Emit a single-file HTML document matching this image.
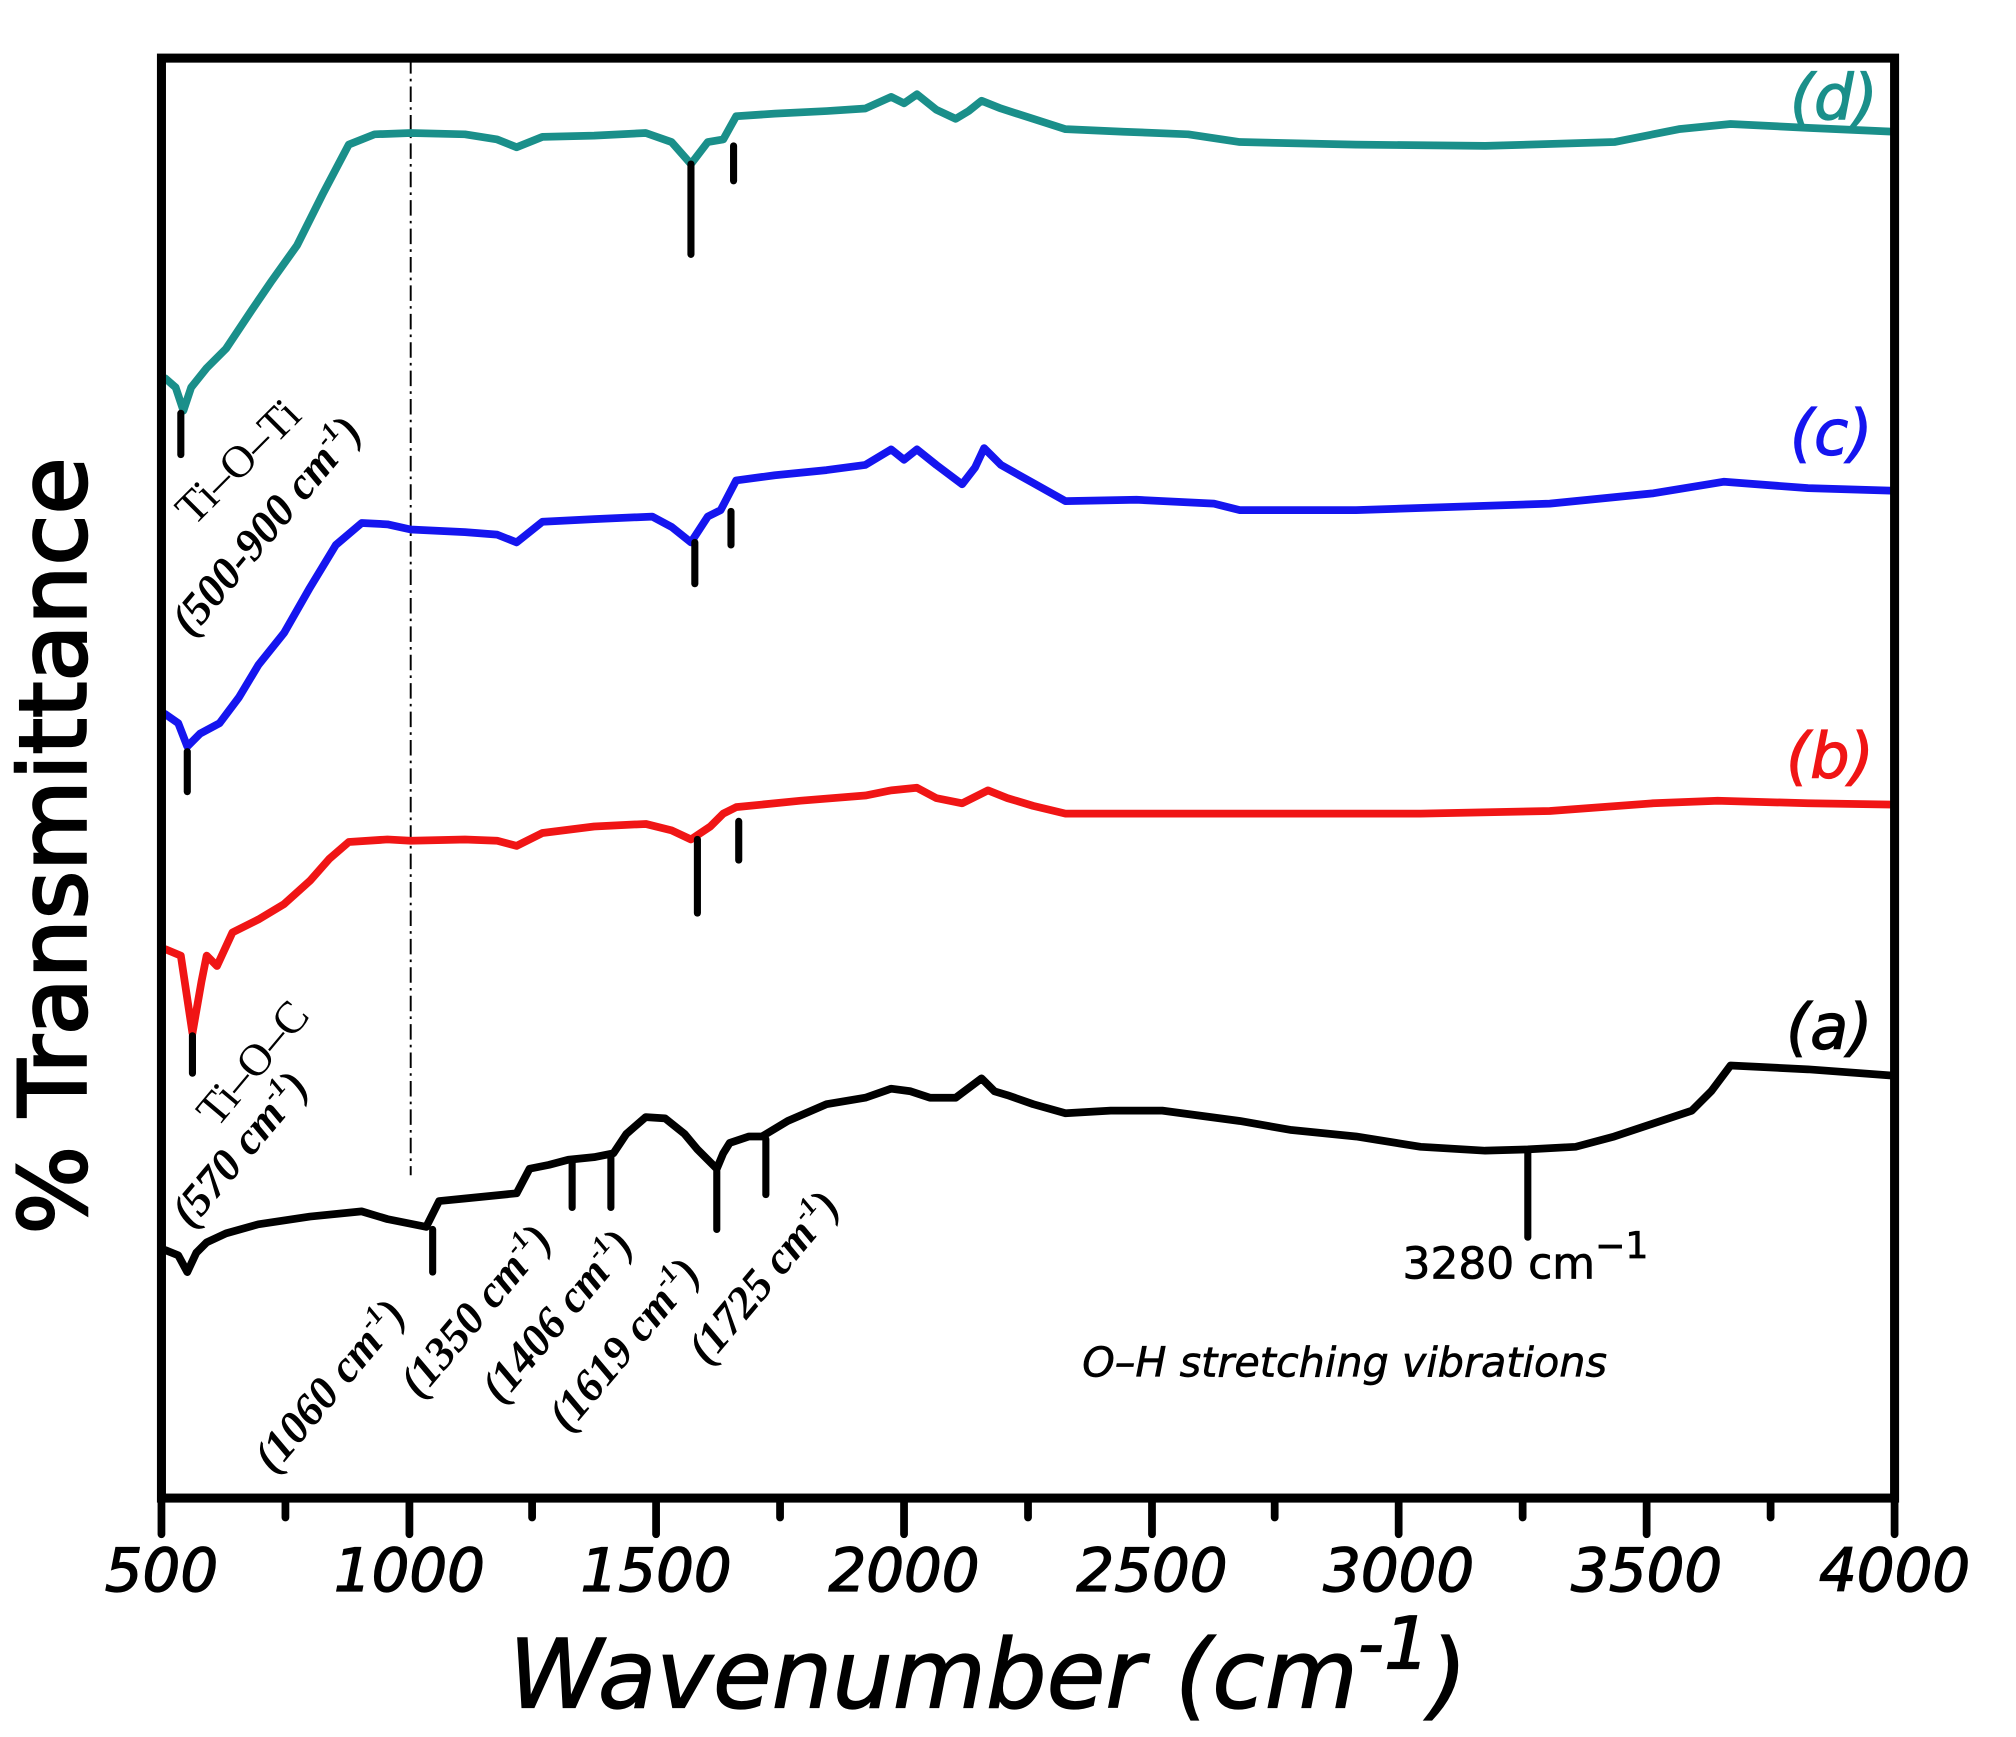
<!DOCTYPE html>
<html><head><meta charset="utf-8"><style>
html,body{margin:0;padding:0;background:#fff;}
svg{display:block;}
.t{font-family:"DejaVu Sans","Liberation Sans",sans-serif;}
.s{font-family:"Liberation Serif",serif;font-style:italic;font-weight:bold;}
</style></head><body>
<svg width="2016" height="1737" viewBox="0 0 1561 1345" xmlns="http://www.w3.org/2000/svg">
<rect width="1561" height="1345" fill="#fff"/>
<line x1="318" y1="45" x2="318" y2="910" stroke="#000" stroke-width="1.5" stroke-dasharray="12,4,2,4"/>
<g fill="none" stroke-width="6" stroke-linejoin="round" stroke-linecap="round">
<polyline stroke="#1a8f8a" points="128,293 136,300 142,318 148,300 160,285 175,270 195,240 210,218 230,190 250,150 270,112 290,104 318,103 360,104 385,108 400,114 420,106 460,105 500,103 520,110 535,127 548,110 560,108 570,90 600,88 640,86 670,84 690,75 700,80 710,73 725,85 740,92 750,86 760,78 775,84 800,92 825,100 870,102 920,104 960,110 1050,112 1150,113 1250,110 1300,100 1340,96 1400,99 1467,102"/>
<polyline stroke="#1515ef" points="128,553 138,560 145,578 155,568 170,560 185,540 200,515 220,490 240,455 260,422 280,405 300,406 318,410 360,412 385,414 400,420 420,404 460,402 505,400 520,408 535,420 548,400 558,395 570,372 600,368 640,364 670,360 690,348 700,356 710,348 725,360 745,375 755,362 762,347 775,360 800,374 825,388 880,387 940,390 960,395 1050,395 1200,390 1280,382 1335,373 1400,378 1467,380"/>
<polyline stroke="#f01515" points="128,735 140,740 149,800 156,760 160,740 168,748 180,722 200,712 220,700 240,682 255,665 270,652 300,650 318,651 360,650 385,651 400,655 420,645 460,640 500,638 520,643 535,650 550,640 560,630 570,625 620,620 670,616 690,612 710,610 725,618 745,622 765,612 780,618 800,624 825,630 900,630 1000,630 1100,630 1200,628 1280,622 1330,620 1400,622 1467,623"/>
<polyline stroke="#000" points="128,968 138,972 145,985 152,970 160,962 175,955 200,948 240,942 280,938 300,944 330,950 340,930 360,928 390,925 400,924 410,905 425,902 440,898 460,896 475,893 485,878 500,865 515,866 530,878 540,890 555,905 560,893 565,885 580,880 590,880 610,868 640,855 670,850 690,843 705,845 720,850 740,850 760,835 770,845 780,848 800,855 825,862 860,860 900,860 960,868 1000,875 1050,880 1100,888 1150,891 1183,890 1220,888 1250,880 1280,870 1310,860 1325,845 1340,825 1360,826 1400,828 1467,833"/>
</g>
<g stroke="#000" stroke-width="5.5" stroke-linecap="round">
<line x1="535" y1="127" x2="535" y2="197"/><line x1="568" y1="113" x2="568" y2="140"/><line x1="140" y1="320" x2="140" y2="352"/>
<line x1="538" y1="420" x2="538" y2="452"/><line x1="566" y1="396" x2="566" y2="422"/><line x1="145" y1="582" x2="145" y2="613"/>
<line x1="540" y1="650" x2="540" y2="707"/><line x1="572" y1="636" x2="572" y2="666"/><line x1="149" y1="802" x2="149" y2="831"/>
<line x1="335" y1="952" x2="335" y2="985"/><line x1="443" y1="900" x2="443" y2="935"/><line x1="473" y1="895" x2="473" y2="935"/><line x1="555" y1="907" x2="555" y2="952"/><line x1="593" y1="882" x2="593" y2="925"/><line x1="1183" y1="892" x2="1183" y2="958"/>
</g>
<rect x="125" y="45" width="1342" height="1115" fill="none" stroke="#000" stroke-width="7"/>
<g stroke="#000" stroke-width="6" stroke-linecap="round">
<line x1="125" y1="1160" x2="125" y2="1188"/><line x1="221" y1="1160" x2="221" y2="1175"/>
<line x1="317" y1="1160" x2="317" y2="1188"/><line x1="412" y1="1160" x2="412" y2="1175"/>
<line x1="508" y1="1160" x2="508" y2="1188"/><line x1="604" y1="1160" x2="604" y2="1175"/>
<line x1="700" y1="1160" x2="700" y2="1188"/><line x1="796" y1="1160" x2="796" y2="1175"/>
<line x1="892" y1="1160" x2="892" y2="1188"/><line x1="987" y1="1160" x2="987" y2="1175"/>
<line x1="1083" y1="1160" x2="1083" y2="1188"/><line x1="1179" y1="1160" x2="1179" y2="1175"/>
<line x1="1275" y1="1160" x2="1275" y2="1188"/><line x1="1371" y1="1160" x2="1371" y2="1175"/>
<line x1="1467" y1="1160" x2="1467" y2="1188"/>
</g>
<g class="t" font-size="46" font-style="italic" text-anchor="middle" stroke="#000" stroke-width="1">
<text x="125" y="1232">500</text><text x="317" y="1232">1000</text><text x="508" y="1232">1500</text><text x="700" y="1232">2000</text><text x="892" y="1232">2500</text><text x="1083" y="1232">3000</text><text x="1275" y="1232">3500</text><text x="1467" y="1232">4000</text>
</g>
<text class="t" x="765" y="1322" font-size="74" font-style="italic" text-anchor="middle" stroke="#000" stroke-width="1">Wavenumber (cm<tspan dy="-30" font-size="56">-1</tspan><tspan dy="30">)</tspan></text>
<text class="t" transform="translate(66,655) rotate(-90)" font-size="72" text-anchor="middle" stroke="#000" stroke-width="2">% Transmittance</text>
<g class="t" font-size="48" font-style="italic">
<text x="1386" y="92" fill="#1a8f8a" stroke="#1a8f8a" stroke-width="1">(d)</text>
<text x="1386" y="352" fill="#1515ef" stroke="#1515ef" stroke-width="1">(c)</text>
<text x="1383" y="602" fill="#f01515" stroke="#f01515" stroke-width="1">(b)</text>
<text x="1383" y="812" fill="#000" stroke="#000" stroke-width="1">(a)</text>
</g>
<g class="s" font-size="35">
<text transform="translate(150,408) rotate(-45)" font-weight="normal" font-style="normal">Ti–O–Ti</text>
<text transform="translate(148,494) rotate(-50)">(500-900 cm<tspan dy="-14" font-size="20">-1</tspan><tspan dy="14">)</tspan></text>
<text transform="translate(168,874) rotate(-50)" font-weight="normal" font-style="normal">Ti–O–C</text>
<text transform="translate(148,952) rotate(-50)">(570 cm<tspan dy="-14" font-size="20">-1</tspan><tspan dy="14">)</tspan></text>
<text transform="translate(212,1142) rotate(-50)">(1060 cm<tspan dy="-14" font-size="20">-1</tspan><tspan dy="14">)</tspan></text>
<text transform="translate(325,1084) rotate(-50)">(1350 cm<tspan dy="-14" font-size="20">-1</tspan><tspan dy="14">)</tspan></text>
<text transform="translate(388,1088) rotate(-50)">(1406 cm<tspan dy="-14" font-size="20">-1</tspan><tspan dy="14">)</tspan></text>
<text transform="translate(440,1110) rotate(-50)">(1619 cm<tspan dy="-14" font-size="20">-1</tspan><tspan dy="14">)</tspan></text>
<text transform="translate(548,1058) rotate(-50)">(1725 cm<tspan dy="-14" font-size="20">-1</tspan><tspan dy="14">)</tspan></text>
</g>
<text class="t" x="1086" y="990" font-size="34" stroke="#000" stroke-width="0.6">3280 cm<tspan dy="-16" font-size="28">−1</tspan></text>
<text class="t" x="838" y="1066" font-size="32" font-style="italic" stroke="#000" stroke-width="0.5">O–H stretching vibrations</text>
</svg>
</body></html>
